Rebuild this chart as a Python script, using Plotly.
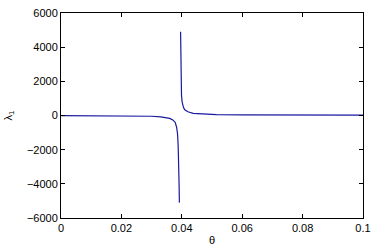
import plotly.graph_objects as go

# Left branch (theta < asymptote)
x_left = [0.0, 0.01, 0.02, 0.027, 0.03, 0.033, 0.035, 0.036, 0.037, 0.0378, 0.0383, 0.0386, 0.0388, 0.039, 0.0391, 0.0392]
y_left = [-5, -8, -15, -30, -45, -80, -120, -170, -260, -400, -700, -1100, -1800, -2800, -4000, -5100]

# Right branch (theta > asymptote)
x_right = [0.0396, 0.03965, 0.0397, 0.0398, 0.0399, 0.0401, 0.0403, 0.0406, 0.041, 0.042, 0.0438, 0.047, 0.0515, 0.06, 0.07, 0.08, 0.09, 0.1]
y_right = [4900, 3500, 2500, 1700, 1200, 800, 600, 450, 330, 220, 130, 80, 50, 40, 35, 30, 28, 25]

x_ticks = [0, 0.02, 0.04, 0.06, 0.08, 0.1]
x_tick_text = ["0", "0.02", "0.04", "0.06", "0.08", "0.1"]
y_ticks = [-6000, -4000, -2000, 0, 2000, 4000, 6000]

line_color = "rgb(25,25,160)"

fig = go.Figure()
fig.add_trace(go.Scatter(x=x_left, y=y_left, mode="lines",
                         line=dict(color=line_color, width=1.2), showlegend=False))
fig.add_trace(go.Scatter(x=x_right, y=y_right, mode="lines",
                         line=dict(color=line_color, width=1.2), showlegend=False))

axis_common = dict(showgrid=False, zeroline=False, showline=True, linecolor="black",
                   linewidth=1, mirror="ticks", ticks="inside", ticklen=4,
                   tickcolor="black", tickfont=dict(size=11, color="black"))

fig.update_layout(
    width=378, height=252,
    margin=dict(l=61, r=15, t=7, b=31),
    paper_bgcolor="white", plot_bgcolor="white",
    font=dict(family="Liberation Sans, Arial, sans-serif", size=11, color="black"),
    xaxis=dict(range=[0, 0.1], tickvals=x_ticks, ticktext=x_tick_text,
               title=dict(text="θ", standoff=3, font=dict(size=11)), **axis_common),
    yaxis=dict(range=[-6000, 6000], tickvals=y_ticks,
               title=dict(text="λ<sub>1</sub>", standoff=12, font=dict(size=11)), **axis_common),
)

fig.write_html("out.html")
